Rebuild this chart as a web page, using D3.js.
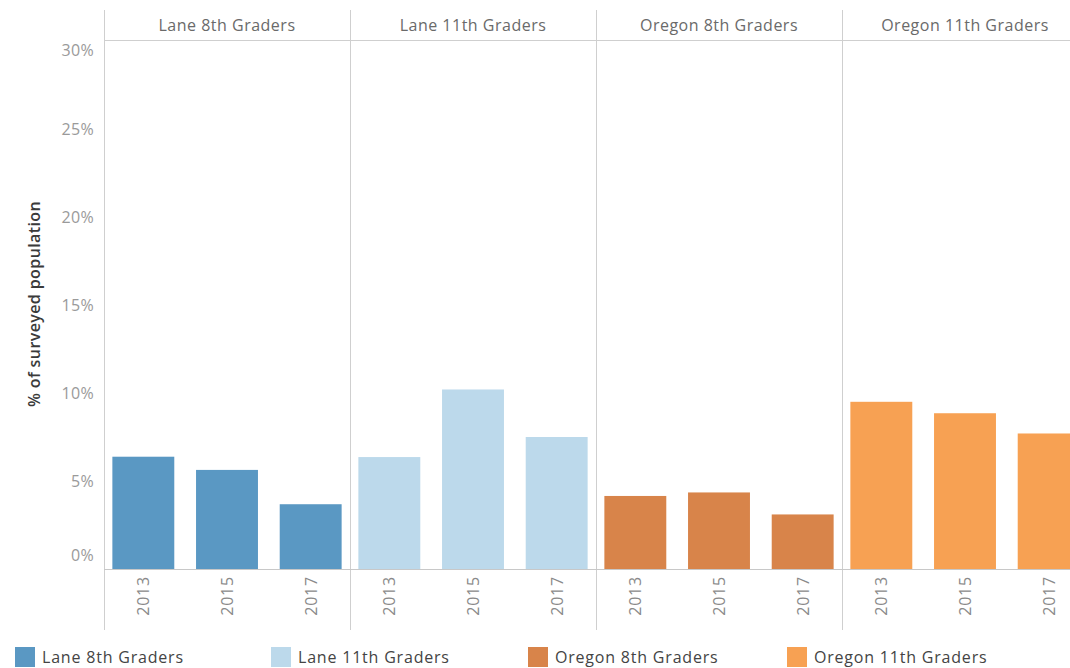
<!DOCTYPE html>
<html>
<head>
<meta charset="utf-8">
<script src="https://cdn.jsdelivr.net/npm/d3@7"></script>
<style>
  body { margin: 0; background: #fff; }
  svg { font-family: "Open Sans", sans-serif; }
</style>
</head>
<body>
<svg id="chart" width="1070" height="668"></svg>
<script>
const groups = ["Lane 8th Graders", "Lane 11th Graders", "Oregon 8th Graders", "Oregon 11th Graders"];
const years = ["2013", "2015", "2017"];
const lane8 = [0.0638, 0.0563, 0.0368];
const lane11 = [0.0636, 0.1020, 0.0750];
const oregon8 = [0.0415, 0.0435, 0.0310];
const oregon11 = [0.0950, 0.0885, 0.0770];
const colors = ["#5a98c3", "#bcd9eb", "#d8844a", "#f7a153"];
const yTicks = [0, 0.05, 0.10, 0.15, 0.20, 0.25, 0.30];

const series = [lane8, lane11, oregon8, oregon11];

const svg = d3.select("#chart");
const plotLeft = 104, plotTop = 41, plotBottom = 569, panelW = 246;

const x = d3.scaleBand().domain(groups).range([plotLeft, plotLeft + panelW * 4]);
const xi = d3.scaleBand().domain(years).range([0, panelW]).paddingInner(0.26).paddingOuter(0.1);
const y = d3.scaleLinear().domain([0, 0.30]).range([plotBottom, plotTop]);

// panel separators
groups.forEach(g => {
  svg.append("line")
    .attr("x1", x(g) + 0.5).attr("x2", x(g) + 0.5)
    .attr("y1", 10).attr("y2", 630)
    .attr("stroke", "#cfcfcf");
});
// header line
svg.append("line")
  .attr("x1", plotLeft).attr("x2", 1070)
  .attr("y1", 40.5).attr("y2", 40.5)
  .attr("stroke", "#cfcfcf");

// headers
svg.selectAll(".hdr")
  .data(groups)
  .enter()
  .append("text")
  .attr("class", "hdr")
  .attr("x", d => x(d) + panelW / 2)
  .attr("y", 31)
  .attr("text-anchor", "middle")
  .attr("font-size", 16)
  .attr("letter-spacing", 0.5)
  .attr("fill", "#6a6a6a")
  .text(d => d);

// y ticks (tableau nudges the end labels inward)
svg.selectAll(".ytick")
  .data(yTicks)
  .enter()
  .append("text")
  .attr("class", "ytick")
  .attr("x", 94)
  .attr("y", d => {
    if (d === 0) return y(d) - 8;
    if (d === 0.30) return y(d) + 15;
    return y(d) + 6;
  })
  .attr("text-anchor", "end")
  .attr("font-size", 16)
  .attr("letter-spacing", 0.3)
  .attr("fill", "#9a9a9a")
  .text(d => d3.format(".0%")(d));

svg.append("text")
  .attr("transform", `translate(40,${(plotTop + plotBottom) / 2 - 1}) rotate(-90)`)
  .attr("text-anchor", "middle")
  .attr("font-size", 16)
  .attr("font-weight", 600)
  .attr("letter-spacing", 0.4)
  .attr("fill", "#3a3a3a")
  .text("% of surveyed population");

// bars
groups.forEach((g, gi) => {
  const panel = svg.append("g").attr("transform", `translate(${x(g)},0)`);
  panel.selectAll("rect")
    .data(series[gi].map((v, i) => ({ year: years[i], value: v })))
    .enter()
    .append("rect")
    .attr("x", d => xi(d.year))
    .attr("width", xi.bandwidth())
    .attr("y", d => y(d.value))
    .attr("height", d => y(0) - y(d.value))
    .attr("fill", colors[gi]);

  panel.selectAll(".yr")
    .data(years)
    .enter()
    .append("text")
    .attr("class", "yr")
    .attr("transform", d => `translate(${xi(d) + xi.bandwidth() / 2 + 6},${plotBottom + 7}) rotate(-90)`)
    .attr("text-anchor", "end")
    .attr("font-size", 16)
    .attr("letter-spacing", 0.8)
    .attr("fill", "#8a8a8a")
    .text(d => d);
});

// zero line
svg.append("line")
  .attr("x1", plotLeft).attr("x2", 1070)
  .attr("y1", y(0) + 0.5).attr("y2", y(0) + 0.5)
  .attr("stroke", "#c8c8c8");

// legend
const legX = [15, 271, 528, 787];
const leg = svg.selectAll(".leg")
  .data(groups)
  .enter()
  .append("g")
  .attr("class", "leg")
  .attr("transform", (d, i) => `translate(${legX[i]},647)`);
leg.append("rect")
  .attr("width", 20).attr("height", 20)
  .attr("fill", (d, i) => colors[i]);
leg.append("text")
  .attr("x", 27).attr("y", 16)
  .attr("font-size", 16)
  .attr("letter-spacing", 0.8)
  .attr("fill", "#444")
  .text(d => d);
</script>
</body>
</html>
